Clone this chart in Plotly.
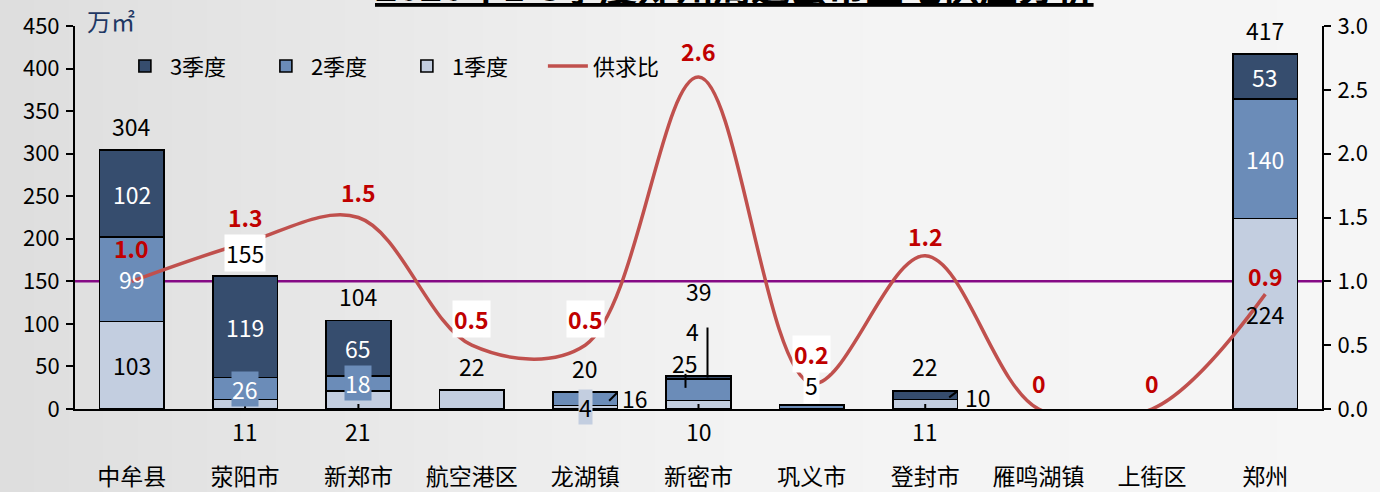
import plotly.graph_objects as go

# ---------------- data ----------------
categories = ["中牟县", "荥阳市", "新郑市", "航空港区", "龙湖镇", "新密市",
              "巩义市", "登封市", "雁鸣湖镇", "上街区", "郑州"]
q1 = [103, 11, 21, 22, 4, 10, 0, 11, 0, 0, 224]
q2 = [99, 26, 18, 0, 16, 25, 5, 0, 0, 0, 140]
q3 = [102, 119, 65, 0, 0, 4, 0, 10, 0, 0, 53]
totals = [304, 155, 104, 22, 20, 39, 5, 22, 0, 0, 417]
ratio = [1.0, 1.3, 1.5, 0.5, 0.5, 2.6, 0.2, 1.2, 0, 0, 0.9]
series_names = ["1季度", "2季度", "3季度"]
left_ticks = [0, 50, 100, 150, 200, 250, 300, 350, 400, 450]
right_ticks = [0.0, 0.5, 1.0, 1.5, 2.0, 2.5, 3.0]
ref_value = 150  # horizontal reference line (= 1.0 on right axis)

# ---------------- style ----------------
colors = ["#C3CEE0", "#6B8CB8", "#364D6E"]
text_colors = ["black", "white", "white"]
line_color = "#C0504D"
label_red = "#C00000"
FONT = "Noto Sans CJK SC, Liberation Sans, sans-serif"
W, H = 1380, 492
ML, MR, MT, MB = 75, 58, 26, 83

fig = go.Figure()

series = [q1, q2, q3]
ranks = [3, 2, 1]
for i, vals in enumerate(series):
    fig.add_trace(go.Bar(
        x=categories, y=[v if v else None for v in vals], name=series_names[i],
        marker=dict(color=colors[i], line=dict(color="black", width=1.6)),
        width=0.57, legendrank=ranks[i], hoverinfo="skip"))

fig.add_trace(go.Scatter(
    x=categories, y=ratio, yaxis="y2", name="供求比", mode="lines",
    line=dict(color=line_color, width=3.5, shape="spline", smoothing=1.0),
    legendrank=4, hoverinfo="skip"))

annotations = []
shapes = []

# background gradient (decoration)
N = 40
page_x0 = -ML / (W - ML - MR)
page_x1 = (W - ML) / (W - ML - MR)
pw = (page_x1 - page_x0) / N
def lerp(a, b, t):
    return int(round(a + (b - a) * t))
for k in range(N):
    t = (k + 0.5) / N
    if t < 0.55:
        c = lerp(0xDE, 0xF3, t / 0.55)
    else:
        c = lerp(0xF3, 0xF6, (t - 0.55) / 0.45)
    shapes.append(dict(type="rect", xref="paper", yref="paper",
                       x0=page_x0 + k * pw, x1=page_x0 + (k + 1) * pw + 0.001,
                       y0=-0.5, y1=1.2, line=dict(width=0),
                       fillcolor=f"rgb({c},{c},{c})", layer="below"))

# reference line
shapes.append(dict(type="line", xref="paper", x0=0, x1=1, yref="y",
                   y0=ref_value, y1=ref_value,
                   line=dict(color="#850A85", width=2.5), layer="below"))

# segment label placement rules
below_axis = {(0, "荥阳市"), (0, "新郑市"), (0, "新密市"), (0, "登封市")}
boxed = {(1, "荥阳市"), (1, "新郑市"), (0, "龙湖镇")}
hidden = {(0, "航空港区"), (1, "巩义市")}
moved = {(1, "龙湖镇"): (50, 1), (2, "登封市"): (53, -2),
         (1, "新密市"): (-14, 27), (2, "新密市"): (-6, 47)}

num_font = dict(family=FONT, size=23)
for i, vals in enumerate(series):
    for j, cat in enumerate(categories):
        v = vals[j]
        if not v or (i, cat) in hidden:
            continue
        base = sum(series[k][j] for k in range(i))
        mid = base + v / 2
        key = (i, cat)
        ann = dict(x=cat, xref="x", yref="y", text=str(v), showarrow=False,
                   font=dict(num_font, color=text_colors[i]))
        if key in below_axis:
            ann.update(y=0, yshift=-22, font=dict(num_font, color="black"))
            shapes.append(dict(type="line", xref="x", yref="y",
                               ysizemode="pixel", yanchor=0,
                               xsizemode="pixel", xanchor=cat,
                               x0=0, x1=0, y0=5, y1=-8,
                               line=dict(color="black", width=2)))
        elif key in boxed:
            ann.update(y=mid, bgcolor=colors[i], borderpad=0)
        elif key in moved:
            dx, dy = moved[key]
            ann.update(y=mid, xshift=dx, yshift=dy, font=dict(num_font, color="black"))
        else:
            ann.update(y=mid)
        annotations.append(ann)

# leader lines for moved labels (pixel offsets from the segment)
leaders = [("龙湖镇", 12, (24, -2, 32, 6)), ("登封市", 16, (24, -2, 32, 4)),
           ("新密市", 22.5, (-13, 2, -13, 16)), ("新密市", 37, (9, 0, 9, 50))]
for cat, yv, (xa, ya, xb, yb) in leaders:
    shapes.append(dict(type="line", xref="x", yref="y", xsizemode="pixel",
                       ysizemode="pixel", xanchor=cat, yanchor=yv,
                       x0=xa, x1=xb, y0=ya, y1=yb,
                       line=dict(color="black", width=2)))

# total labels
total_shift = {"新密市": 66, "巩义市": 1}
total_bg = {"荥阳市", "巩义市"}
for j, cat in enumerate(categories):
    if not totals[j]:
        continue
    annotations.append(dict(
        x=cat, y=totals[j], xref="x", yref="y", text=str(totals[j]),
        showarrow=False, yanchor="bottom", yshift=total_shift.get(cat, 5),
        font=dict(num_font, color="black"),
        bgcolor="white" if cat in total_bg else None, borderpad=1))

# ratio labels
ratio_bg = {3, 4, 6}
ratio_shift = {0: 33, 6: 29, 7: 20, 10: 18}
for j, cat in enumerate(categories):
    r = ratio[j]
    txt = "0" if r == 0 else f"{r:.1f}"
    annotations.append(dict(
        x=cat, y=r, xref="x", yref="y2", text=f"<b>{txt}</b>", showarrow=False,
        yshift=ratio_shift.get(j, 26),
        font=dict(family=FONT, size=23, color=label_red),
        bgcolor="white" if j in ratio_bg else None, borderpad=1))

# unit label
annotations.append(dict(xref="paper", yref="paper", x=0.008, y=1.0, xanchor="left",
                        yanchor="middle", yshift=6, text="万㎡", showarrow=False,
                        font=dict(family=FONT, size=24, color="#1F3864")))
# title (partly outside the page at the top)
annotations.append(dict(xref="paper", yref="paper", x=0.529, y=1.0, xanchor="center",
                        yanchor="bottom", yshift=12, showarrow=False,
                        text="<b><u>2020年1-3季度郑州周边县市土地供应分析</u></b>",
                        font=dict(family=FONT, size=38, color="black")))

fig.update_layout(
    width=W, height=H,
    margin=dict(l=ML, r=MR, t=MT, b=MB, autoexpand=False),
    paper_bgcolor="#F0F0F0", plot_bgcolor="rgba(0,0,0,0)",
    barmode="stack", bargap=0.43,
    font=dict(family=FONT, size=22, color="black"),
    showlegend=True,
    legend=dict(orientation="h", x=0.036, y=0.895, xanchor="left", yanchor="middle",
                traceorder="normal",
                bgcolor="rgba(0,0,0,0)", font=dict(family=FONT, size=22),
                entrywidth=86, entrywidthmode="pixels", itemwidth=40),
    xaxis=dict(showline=True, linecolor="black", linewidth=2, ticks="",
               showgrid=False, zeroline=False, range=[-0.5, len(categories) - 0.5],
               tickfont=dict(family=FONT, size=23), ticklabelstandoff=46,
               automargin=False),
    yaxis=dict(range=[0, 450], tickvals=left_ticks, ticks="outside", ticklen=7,
               tickwidth=2, tickcolor="black", showline=True, linecolor="black",
               linewidth=2, showgrid=False, zeroline=False, automargin=False,
               tickfont=dict(family=FONT, size=22), ticklabelstandoff=2),
    yaxis2=dict(range=[0, 3], tickvals=right_ticks, tickformat=".1f", overlaying="y",
                side="right", ticks="outside", ticklen=7, tickwidth=2,
                tickcolor="black", showline=True, linecolor="black", linewidth=2,
                showgrid=False, zeroline=False, automargin=False,
                tickfont=dict(family=FONT, size=22), ticklabelstandoff=2),
    annotations=annotations, shapes=shapes,
)

fig.write_html("out.html")
